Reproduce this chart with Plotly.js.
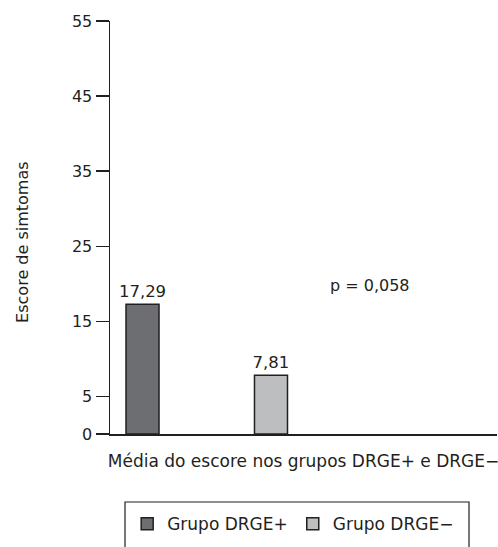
<!DOCTYPE html>
<html>
<head>
<meta charset="utf-8">
<script src="https://cdn.plot.ly/plotly-3.0.1.min.js"></script>
<style>html,body{margin:0;padding:0;background:#fff;}#chart{width:498px;height:547px;}</style>
</head>
<body>
<div id="chart"></div>
<script>
var categories = ["Grupo DRGE+", "Grupo DRGE\u2212"];
var values = [17.29, 7.81];
var colors = ["#6d6e71", "#bcbec0"];
var yTicks = [0, 5, 15, 25, 35, 45, 55];
var yTitle = "Escore de simtomas";
var xTitle = "Média do escore nos grupos DRGE+ e DRGE\u2212";
var pValue = "p = 0,058";

var FONT = "DejaVu Sans";
var INK = "#231f20";

var traces = categories.map(function (c, i) {
  return {
    type: "bar",
    name: c,
    x: [c],
    y: [values[i]],
    width: 0.257,
    marker: { color: colors[i], line: { color: INK, width: 1.5 } },
    texttemplate: "%{y:.2f}",
    textposition: "outside",
    constraintext: "none",
    cliponaxis: false,
    textfont: { family: FONT, size: 16.5, color: INK },
    hoverinfo: "skip"
  };
});

var layout = {
  width: 498,
  height: 547,
  separators: ",.",
  margin: { l: 110, r: 1, t: 21, b: 113, autoexpand: false },
  paper_bgcolor: "#fff",
  plot_bgcolor: "#fff",
  font: { family: FONT, size: 16, color: INK },
  barmode: "overlay",
  showlegend: true,
  legend: {
    orientation: "h",
    x: 0.0444, xanchor: "left",
    y: -0.175, yanchor: "top",
    font: { family: FONT, size: 17, color: INK },
    borderwidth: 0,
    bgcolor: "rgba(0,0,0,0)",
    traceorder: "normal"
  },
  xaxis: {
    type: "category",
    range: [-0.253, 2.759],
    showline: true, linecolor: INK, linewidth: 1.5,
    showticklabels: false, ticks: "",
    showgrid: false, zeroline: false,
    fixedrange: true,
    title: { text: xTitle, font: { family: FONT, size: 17, color: INK }, standoff: 20 }
  },
  yaxis: {
    range: [0, 55],
    tickvals: yTicks,
    ticktext: yTicks.map(String),
    ticks: "outside", ticklen: 13, tickwidth: 1.5, tickcolor: INK,
    showline: true, linecolor: INK, linewidth: 1.5,
    showgrid: false, zeroline: false,
    tickfont: { family: FONT, size: 16, color: INK },
    fixedrange: true
  },
  annotations: [
    {
      text: yTitle, textangle: -90,
      xref: "paper", yref: "paper",
      x: -0.225, y: 0.465, xanchor: "center", yanchor: "middle",
      showarrow: false, font: { family: FONT, size: 16, color: INK }
    },
    {
      text: pValue,
      xref: "paper", yref: "paper",
      x: 0.672, y: (434 - 285) / 413, xanchor: "center", yanchor: "middle",
      showarrow: false, font: { family: FONT, size: 16, color: INK }
    }
  ],
  shapes: [
    {
      type: "rect", xref: "paper", yref: "paper",
      x0: (125 - 110) / 387, x1: (469 - 110) / 387,
      y0: (434 - 502) / 413, y1: (434 - 570) / 413,
      line: { color: INK, width: 1.2 }, fillcolor: "rgba(0,0,0,0)"
    }
  ]
};

Plotly.newPlot("chart", traces, layout, { displayModeBar: false, staticPlot: true });
</script>
</body>
</html>
